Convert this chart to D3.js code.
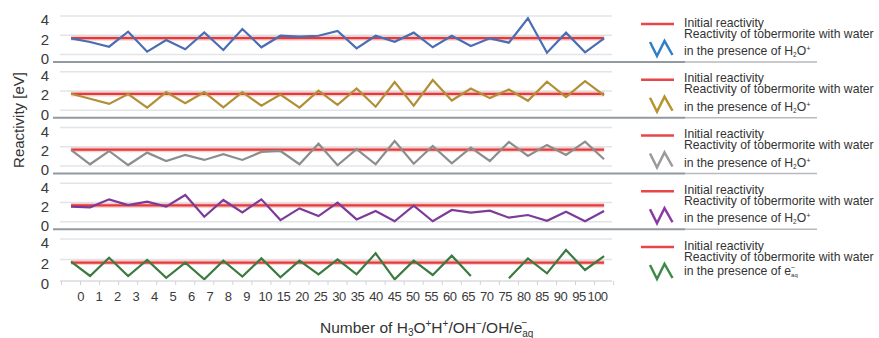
<!DOCTYPE html>
<html>
<head>
<meta charset="utf-8">
<script src="https://cdn.jsdelivr.net/npm/d3@7/dist/d3.min.js"></script>
<style>
  html, body { margin: 0; padding: 0; background: #fff; }
  svg { display: block; font-family: "Liberation Sans", Arial, Helvetica, sans-serif; }
</style>
</head>
<body>
<svg id="chart" width="879" height="338"></svg>
<script>
// Categories along the horizontal axis (number of added species)
const categories = ["0","1","2","3","4","5","6","7","8","9","10","15","20","25","30","35","40","45","50","55","60","65","70","75","80","85","90","95","100"];

// Reference level: initial reactivity of tobermorite [eV]
const initialReactivity = 1.7;

// Reactivity series [eV], one per panel
const seriesBlue   = [1.68,1.3,0.81,2.37,0.29,1.5,0.54,2.3,0.47,2.65,0.75,1.95,1.85,1.95,2.44,0.64,1.95,1.33,2.27,0.75,1.95,0.88,1.68,1.23,3.76,0.19,2.27,0.23,1.68];
const seriesGold   = [1.72,1.2,0.66,1.68,0.27,1.89,0.72,1.89,0.3,1.89,0.48,1.62,0.27,2.04,0.55,2.26,0.37,2.93,0.48,3.14,1.01,2.26,1.26,2.15,0.98,2.96,1.36,3.03,1.54];
const seriesGray   = [1.67,0.18,1.56,0.1,1.39,0.52,1.15,0.63,1.22,0.63,1.46,1.56,0.18,2.32,0.07,1.74,0.18,2.6,0.24,2.08,0.28,1.91,0.52,2.5,1.04,2.19,1.15,2.53,0.7];
const seriesPurple = [1.57,1.5,2.33,1.74,2.09,1.57,2.78,0.52,2.26,0.97,2.33,0.17,1.39,0.59,1.98,0.24,1.11,0.05,1.67,0.05,1.22,0.94,1.15,0.42,0.7,0.1,1.04,0.05,1.11];
const seriesGreen  = [1.79,0.39,2.18,0.39,1.95,0.22,1.69,0.07,1.89,0.33,2.11,0.26,1.89,0.55,2.02,0.55,2.6,0.07,1.89,0.49,2.37,0.39,null,0.16,2.11,0.65,2.93,0.98,2.34];

// Axis tick values and legend species
const yTicks = [0, 2, 4];
const legendSpecies = ["H2O+", "H2O+", "H2O+", "H2O+", "eaq"];

const panels = [
  { values: seriesBlue,   color: "#4a6db3", icon: "#2f80c6" },
  { values: seriesGold,   color: "#b28f36", icon: "#b8942e" },
  { values: seriesGray,   color: "#8d8d8d", icon: "#9a9a9a" },
  { values: seriesPurple, color: "#7d3b98", icon: "#8a3aa2" },
  { values: seriesGreen,  color: "#3c7a40", icon: "#3f8a48" }
];

const svg = d3.select("#chart");
const textColor = "#333";

// Shared horizontal scales: band centres carry the points, a point scale places the labels
const x = d3.scaleBand().domain(categories).range([61.5, 613.6]);
const xc = c => x(c) + x.bandwidth() / 2;
const xLabel = d3.scalePoint().domain(categories).range([80, 597]);

const gridX0 = 60, gridX1 = 612;
const panelTop0 = 16, panelPitch = 55.75;

panels.forEach((p, i) => {
  const top = panelTop0 + i * panelPitch;
  const last = i === panels.length - 1;
  const bottom = last ? 280 : top + 38.5;
  const y = d3.scaleLinear().domain([0, 4]).range([bottom, top]);
  const g = svg.append("g");

  // horizontal grid lines
  g.selectAll("line.grid").data(last ? [2, 4] : yTicks).join("line")
    .attr("x1", gridX0).attr("x2", gridX1)
    .attr("y1", d => y(d)).attr("y2", d => y(d))
    .attr("stroke", "#e2e4e6").attr("stroke-width", 1.5);

  // y tick labels
  g.selectAll("text.tick").data(yTicks).join("text")
    .attr("x", 49).attr("y", d => y(d) + 4)
    .attr("dy", "0.35em").attr("text-anchor", "end")
    .attr("font-size", 15).attr("fill", "#3a3a3a")
    .text(d => d);

  // initial reactivity reference line
  const refLine = d3.line().x(d => xc(d)).y(() => y(initialReactivity));
  const ends = [categories[0], categories[categories.length - 1]];
  g.append("path").attr("d", refLine(ends))
    .attr("stroke", "rgba(235,90,90,0.28)").attr("stroke-width", 5).attr("fill", "none");
  g.append("path").attr("d", refLine(ends))
    .attr("stroke", "#e53a3a").attr("stroke-width", 2.2).attr("fill", "none");

  // reactivity series
  const line = d3.line()
    .defined(d => d[1] != null)
    .x(d => xc(d[0])).y(d => y(d[1]));
  g.append("path")
    .attr("d", line(categories.map((c, k) => [c, p.values[k]])))
    .attr("fill", "none").attr("stroke", p.color)
    .attr("stroke-width", 2.2).attr("stroke-linejoin", "miter");

  // panel separator / bottom axis
  if (!last) {
    g.append("line").attr("x1", 53).attr("x2", 685)
      .attr("y1", top + 46).attr("y2", top + 46)
      .attr("stroke", "#929aa0").attr("stroke-width", 2);
    g.append("line").attr("x1", 685).attr("x2", 817)
      .attr("y1", top + 46).attr("y2", top + 46)
      .attr("stroke", "#b6babe").attr("stroke-width", 1.5);
  } else {
    const axisY = bottom + 1;
    g.append("line").attr("x1", gridX0).attr("x2", gridX1)
      .attr("y1", axisY).attr("y2", axisY)
      .attr("stroke", "#d8dbde").attr("stroke-width", 1.5);
    const edges = categories.map(c => x(c)).concat([x.range()[1]]);
    g.selectAll("line.tk").data(edges).join("line")
      .attr("x1", d => d).attr("x2", d => d)
      .attr("y1", axisY).attr("y2", axisY + 4)
      .attr("stroke", "#d0d3d6").attr("stroke-width", 1);
    const ax = g.append("g").attr("transform", `translate(0,${axisY + 8})`)
      .call(d3.axisBottom(xLabel).tickSize(0).tickPadding(0));
    ax.select(".domain").remove();
    ax.selectAll("text").attr("font-size", 13).attr("fill", "#3a3a3a")
      .attr("font-family", "'Liberation Sans', Arial, sans-serif")
      .attr("letter-spacing", "-0.5px")
      .attr("dy", "0.9em");
  }

  // legend
  const lg = g.append("g").attr("fill", textColor);
  lg.append("line").attr("x1", 641).attr("x2", 674)
    .attr("y1", top + 8).attr("y2", top + 8)
    .attr("stroke", "#e8474a").attr("stroke-width", 2.5);
  lg.append("text").attr("x", 684).attr("y", top + 10.5)
    .attr("font-size", 12.2).text("Initial reactivity");
  lg.append("text").attr("x", 684).attr("y", top + 21.5)
    .attr("font-size", 12.2).text("Reactivity of tobermorite with water");
  lg.append("polyline")
    .attr("points", [[650, top + 26], [657, top + 40], [664.5, top + 25], [672.5, top + 39]].map(q => q.join(",")).join(" "))
    .attr("fill", "none").attr("stroke", p.icon).attr("stroke-width", 2.5);
  const t3 = lg.append("text").attr("x", 684).attr("y", top + (last ? 35.5 : 39))
    .attr("font-size", 12.2);
  t3.append("tspan").text("in the presence of ");
  if (legendSpecies[i] === "H2O+") {
    t3.append("tspan").text("H");
    t3.append("tspan").attr("font-size", 6.5).attr("dy", 2).text("2");
    t3.append("tspan").attr("dy", -2).text("O");
    t3.append("tspan").attr("font-size", 7.5).attr("dy", -4).text("+");
  } else {
    t3.append("tspan").text("e");
    t3.append("tspan").attr("font-size", 6).attr("dy", 2.5).text("aq");
    t3.append("tspan").attr("font-size", 7).attr("dx", -7).attr("dy", -7).text("−");
  }
});

// axis titles
svg.append("text")
  .attr("transform", "translate(24,120) rotate(-90)")
  .attr("text-anchor", "middle").attr("font-size", 15).attr("fill", textColor)
  .text("Reactivity [eV]");

const xt = svg.append("text").attr("x", 320).attr("y", 333)
  .attr("font-size", 15.5).attr("fill", textColor);
xt.append("tspan").text("Number of H");
xt.append("tspan").attr("font-size", 10).attr("dy", 3).text("3");
xt.append("tspan").attr("dy", -3).text("O");
xt.append("tspan").attr("font-size", 10).attr("dy", -6).text("+");
xt.append("tspan").attr("dy", 6).text("H");
xt.append("tspan").attr("font-size", 10).attr("dy", -6).text("+");
xt.append("tspan").attr("dy", 6).text("/OH");
xt.append("tspan").attr("font-size", 10).attr("dy", -6).text("−");
xt.append("tspan").attr("dy", 6).text("/OH/e");
xt.append("tspan").attr("font-size", 10).attr("dy", 4).text("aq");
xt.append("tspan").attr("font-size", 10).attr("dx", -12).attr("dy", -11).text("−");
</script>
</body>
</html>
